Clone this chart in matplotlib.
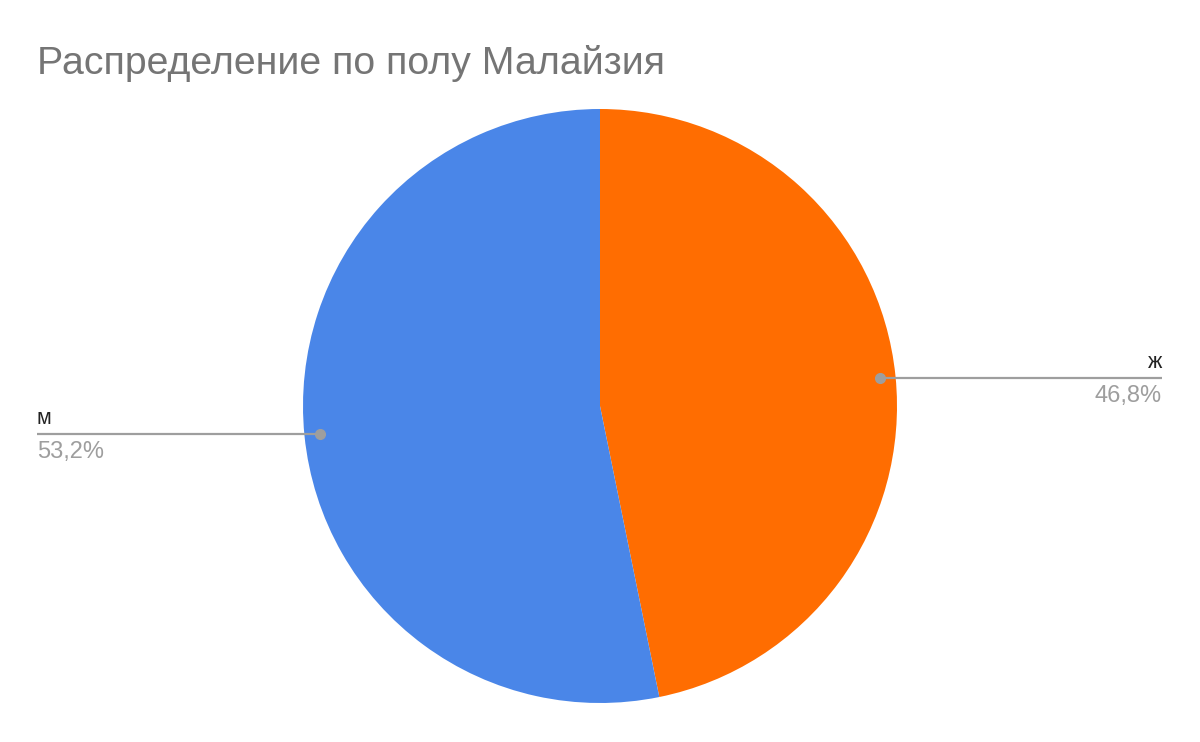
import numpy as np
import matplotlib
matplotlib.use("Agg")
import matplotlib.pyplot as plt

plt.rcParams['font.family'] = ['Liberation Sans', 'DejaVu Sans']

title = "Распределение по полу Малайзия"
labels = ["ж", "м"]
shares = [46.8, 53.2]
pct_text = ["46,8%", "53,2%"]
colors = ["#FF6D01", "#4A86E8"]

W, H = 1200, 742
fig = plt.figure(figsize=(W / 100, H / 100), dpi=100)
ax = fig.add_axes([0, 0, 1, 1])

cx, cy, R = 600, H - 406, 297
wedges, _ = ax.pie(shares, colors=colors, startangle=90, counterclock=False,
                   center=(cx, cy), radius=R, frame=True,
                   wedgeprops=dict(linewidth=0))
ax.set_xlim(0, W)
ax.set_ylim(0, H)
ax.set_aspect('equal')
ax.axis('off')

# callouts
for w, lab, pct in zip(wedges, labels, pct_text):
    mid = np.deg2rad((w.theta1 + w.theta2) / 2)
    px = cx + 0.947 * R * np.cos(mid)
    py = cy + 0.947 * R * np.sin(mid)
    if np.cos(mid) > 0:
        xe, ha = 1162, 'right'
    else:
        xe, ha = 37, 'left'
    ax.plot([px, xe], [py, py], color="#9E9E9E", lw=1.6, solid_capstyle='butt')
    ax.plot([px], [py], 'o', color="#9E9E9E", ms=7)
    ax.text(xe, py + 5, lab, ha=ha, va='bottom', fontsize=15.5, color="#222222")
    ax.text(xe, py - 7, pct, ha=ha, va='top', fontsize=17, color="#9E9E9E")

fig.text(37 / W, 1 - 64 / H, title, ha='left', va='center', fontsize=28.3, color="#757575")

fig.savefig("out.png", dpi=100, facecolor='white')
